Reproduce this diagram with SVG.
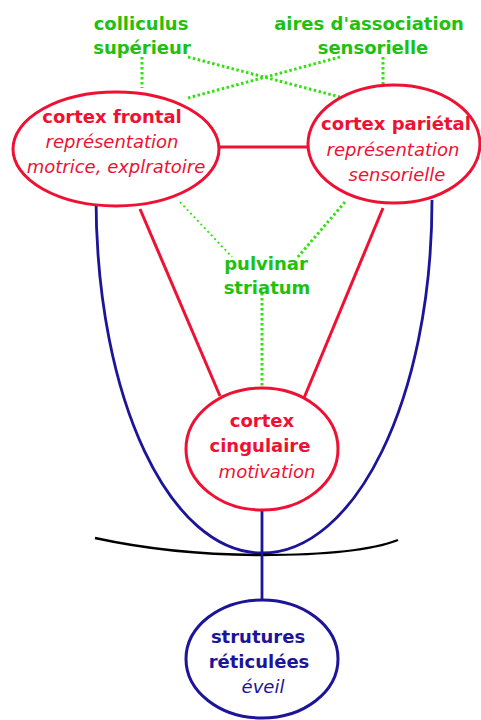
<svg xmlns="http://www.w3.org/2000/svg" width="481" height="720" viewBox="0 0 481 720">
<style>
.t{font-family:"DejaVu Sans",Verdana,sans-serif;font-size:18px;text-anchor:middle}
.b{font-weight:bold}
.i{font-style:italic}
.g{fill:#20c010}
.r{fill:#ee1133}
.bl{fill:#1c1499}
.re{fill:#fff;stroke:#ee1133;stroke-width:3}
.be{fill:#fff;stroke:#1c1499;stroke-width:3}
.rl{stroke:#ee1133;stroke-width:3;fill:none}
.bll{stroke:#1c1499;stroke-width:2.8;fill:none}
.dot{stroke:#33e011;stroke-width:3;stroke-dasharray:2.5 2.5;fill:none}
.dot2{stroke:#33e011;stroke-width:1.8;stroke-dasharray:2 3;fill:none}
</style>
<rect width="481" height="720" fill="#fff"/>
<g id="connectors">
<path class="bll" d="M96,197 C96,400 170,553 262,553"/>
<path class="bll" d="M432,200 C432,400 355,553 262,553"/>
<path d="M95,538 C150,550 200,555 262,555 C320,555 370,551 398,540" stroke="#000" stroke-width="2.4" fill="none"/>
<line class="bll" x1="262" y1="510" x2="262" y2="600" stroke-width="3"/>
<line class="rl" x1="219" y1="147" x2="308" y2="147"/>
<line class="rl" x1="140" y1="209" x2="220" y2="396"/>
<line class="rl" x1="383" y1="208" x2="304" y2="398"/>
<line class="dot" x1="142" y1="57" x2="142" y2="88"/>
<line class="dot" x1="383" y1="57" x2="383" y2="86"/>
<line class="dot" x1="188" y1="57" x2="340" y2="97"/>
<line class="dot" x1="340" y1="57" x2="188" y2="98"/>
<line class="dot2" x1="180" y1="202" x2="232" y2="257"/>
<line class="dot" x1="345" y1="202" x2="297" y2="258"/>
<line class="dot" x1="262" y1="293" x2="262" y2="390"/>
</g>
<g id="colliculus">
<text class="t b g" x="141" y="30">colliculus</text>
<text class="t b g" x="142" y="54">supérieur</text>
</g>
<g id="aires">
<text class="t b g" x="369" y="30">aires d'association</text>
<text class="t b g" x="373" y="54">sensorielle</text>
</g>
<g id="frontal">
<ellipse class="re" cx="116" cy="149" rx="103" ry="57"/>
<text class="t b r" x="112" y="123">cortex frontal</text>
<text class="t i r" x="112" y="148">représentation</text>
<text class="t i r" x="116" y="173">motrice, explratoire</text>
</g>
<g id="parietal">
<ellipse class="re" cx="394" cy="144" rx="86" ry="59"/>
<text class="t b r" x="396" y="130">cortex pariétal</text>
<text class="t i r" x="393" y="156">représentation</text>
<text class="t i r" x="397" y="181">sensorielle</text>
</g>
<g id="pulvinar">
<text class="t b g" x="266" y="270">pulvinar</text>
<text class="t b g" x="267" y="294">striatum</text>
</g>
<g id="cingulaire">
<ellipse class="re" cx="262" cy="449" rx="76" ry="61"/>
<text class="t b r" x="262" y="427">cortex</text>
<text class="t b r" x="260" y="452">cingulaire</text>
<text class="t i r" x="267" y="478">motivation</text>
</g>
<g id="reticulees">
<ellipse class="be" cx="262" cy="659" rx="76" ry="59"/>
<text class="t b bl" x="258" y="643">strutures</text>
<text class="t b bl" x="259" y="668">réticulées</text>
<text class="t i bl" x="263" y="693">éveil</text>
</g>
</svg>
